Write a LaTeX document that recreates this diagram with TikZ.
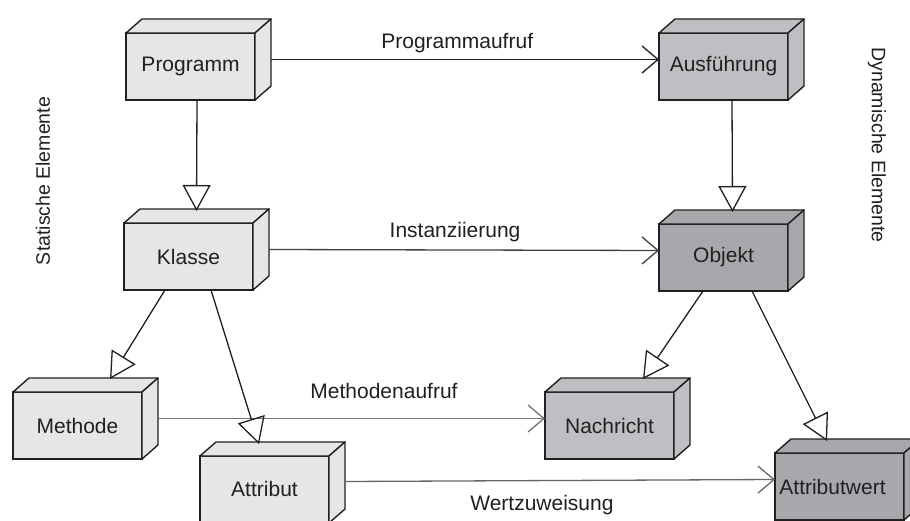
\documentclass[tikz,border=0pt]{standalone}
\usepackage{fontspec}
\setmainfont{Liberation Sans}
\usetikzlibrary{arrows.meta}

\definecolor{edgeink}{HTML}{231F20}
\definecolor{textink}{HTML}{231F20}
\definecolor{staticfill}{HTML}{E5E6E8}
\definecolor{runfill}{HTML}{BEBFC2}
\definecolor{objfill}{HTML}{A7A8AC}

\tikzset{
  cubefront/.style={draw=edgeink, line width=1.4pt, rectangle, anchor=north west,
    minimum width=129pt, minimum height=67pt, inner sep=0pt, outer sep=0pt,
    text=textink, font=\fontsize{21}{24}\selectfont},
  cubeface/.style={draw=edgeink, line width=1.4pt, line join=round},
  flow/.style={line width=1.3pt, -{Straight Barb[length=16pt,width=27pt]}},
  inherit/.style={draw=edgeink, line width=1.3pt, -{Triangle[open,length=26pt,width=28pt]}},
  edgelabel/.style={text=textink, font=\fontsize{21}{24}\selectfont, anchor=base, inner sep=0pt},
  sidelabel/.style={text=textink, font=\fontsize{19.5}{22}\selectfont, inner sep=0pt}
}

% front face as a node, top and side faces drawn against its edges
\newcommand\cubenode[4]{%
  \node[cubefront, fill=#3] (#1) at (#2) {#4};
  \filldraw[cubeface, fill=#3] (#1.north west) -- ++(16pt,14pt)
    -- ([shift={(16pt,14pt)}]#1.north east) -- (#1.north east) -- cycle;
  \filldraw[cubeface, fill=#3] (#1.north east) -- ++(16pt,14pt)
    -- ([shift={(16pt,14pt)}]#1.south east) -- (#1.south east) -- cycle;
}

\begin{document}
\begin{tikzpicture}[x=1pt, y=-1pt]
\useasboundingbox (0,0) rectangle (910,521);
\clip (0,0) rectangle (910,521);
\fill[white] (0,0) rectangle (910,521);

% static elements
\cubenode{prog}{126,33}{staticfill}{\raisebox{5pt}{Programm}}
\cubenode{klasse}{124,223}{staticfill}{Klasse}
\cubenode{methode}{13,392}{staticfill}{Methode}
\cubenode{attr}{200,456}{staticfill}{\raisebox{1pt}{Attribut}}

% dynamic elements
\cubenode{ausf}{659,33}{runfill}{\raisebox{5pt}{Ausführung}}
\cubenode{objekt}{659,224}{objfill}{Objekt}
\cubenode{nachricht}{545,392}{runfill}{Nachricht}
\cubenode{attrwert}{775,453}{objfill}{\hspace*{-14pt}Attributwert}

% side captions
\node[sidelabel, rotate=90] (statcap) at (43,181) {Statische Elemente};
\node[sidelabel, rotate=-90] (dyncap) at (877,145) {Dynamische Elemente};

% horizontal flows between the two sides
\draw[flow, draw=edgeink] ([xshift=16pt,yshift=7pt]prog.east) --
  node[edgelabel, pos=0.48, yshift=11pt] (lprog) {Programmaufruf}
  ([yshift=7pt]ausf.west);
\draw[flow, draw=black!75] ([xshift=16pt,yshift=7pt]klasse.east) --
  node[edgelabel, pos=0.477, yshift=12pt] (linst) {Instanziierung}
  ([yshift=7pt]objekt.west);
\draw[flow, draw=black!55] ([xshift=16pt,yshift=7pt]methode.east) --
  node[edgelabel, pos=0.584, yshift=20pt] (lmeth) {Methodenaufruf}
  ([yshift=7pt]nachricht.west);
\draw[flow, draw=black!60] ([xshift=16pt,yshift=8pt]attr.east) --
  node[edgelabel, pos=0.458, yshift=-30pt] (lwert) {Wertzuweisung}
  ([yshift=7pt]attrwert.west);

% structural (hollow triangle) connectors
\draw[inherit] ([xshift=6.5pt]prog.south) -- ([xshift=8pt,yshift=12pt]klasse.north);
\draw[inherit] ([xshift=8.5pt]ausf.south) -- ([xshift=9pt,yshift=12pt]objekt.north);
\draw[inherit] ([xshift=-23.5pt]klasse.south) -- ([xshift=32.5pt,yshift=13pt]methode.north);
\draw[inherit] ([xshift=22.5pt]klasse.south) -- ([xshift=-5.5pt,yshift=12pt]attr.north);
\draw[inherit] ([xshift=-20.5pt]objekt.south) -- ([xshift=33.5pt,yshift=13pt]nachricht.north);
\draw[inherit] ([xshift=28.5pt]objekt.south) -- ([xshift=-12.5pt,yshift=12pt]attrwert.north);
\end{tikzpicture}
\end{document}
